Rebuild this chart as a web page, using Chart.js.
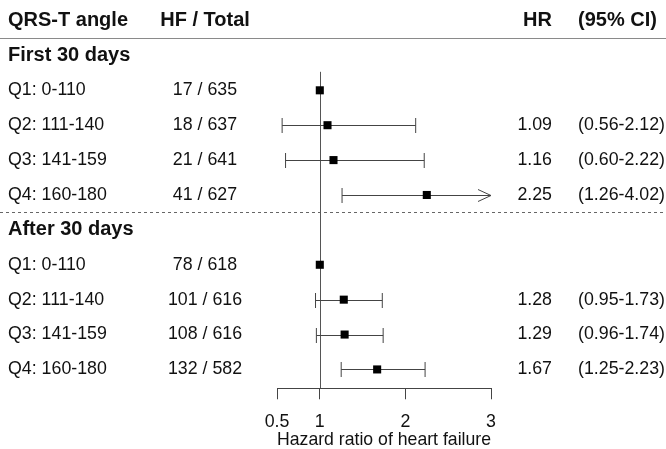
<!DOCTYPE html>
<html>
<head>
<meta charset="utf-8">
<script src="https://cdn.jsdelivr.net/npm/chart.js@4"></script>
<style>
  html, body { margin: 0; padding: 0; background: #fff; }
  canvas { display: block; }
</style>
</head>
<body>
<canvas id="forest" width="666" height="449"></canvas>
<script>
// --- Data ---
const groupNames = ['First 30 days', 'After 30 days'];
const angleLabels = ['Q1: 0-110', 'Q2: 111-140', 'Q3: 141-159', 'Q4: 160-180'];
const hfTotals = [
    ['17 / 635', '18 / 637', '21 / 641', '41 / 627'],
    ['78 / 618', '101 / 616', '108 / 616', '132 / 582']
];
const hrValues = [
    [1, 1.09, 1.16, 2.25],
    [1, 1.28, 1.29, 1.67]
];
const ciLower = [
    [null, 0.56, 0.60, 1.26],
    [null, 0.95, 0.96, 1.25]
];
const ciUpper = [
    [null, 2.12, 2.22, 4.02],
    [null, 1.73, 1.74, 2.23]
];
const xTicks = [0.5, 1, 2, 3];
const headers = ['QRS-T angle', 'HF / Total', 'HR', '(95% CI)'];
const axisTitle = 'Hazard ratio of heart failure';

// --- Rows: 0 = header, then group title + 4 rows per group ---
const rows = [];
let r = 1;
groupNames.forEach((name, g) => {
    rows.push({ kind: 'group', row: r++, text: name });
    angleLabels.forEach((lab, i) => {
        rows.push({
            kind: 'item', row: r++, label: lab, hf: hfTotals[g][i],
            hr: hrValues[g][i], lo: ciLower[g][i], hi: ciUpper[g][i]
        });
    });
});
const items = rows.filter(d => d.kind === 'item');

const FONT = '"Liberation Sans", Arial, sans-serif';
const TEXT = '#111';
const BOLD = 'bold 20px ' + FONT;
const PLAIN = '17.8px ' + FONT;

const col = { label: 8, hf: 205, hr: 552, ci: 578 };

const forestPlugin = {
    id: 'forest',
    beforeDatasetsDraw(chart) {
        const { ctx, scales: { x, y }, chartArea } = chart;
        const W = chart.width;
        ctx.save();

        // header rule and section separator
        ctx.strokeStyle = '#8a8a8a';
        ctx.lineWidth = 1;
        const hy = Math.round(y.getPixelForValue(0.5)) + 0.5;
        ctx.beginPath(); ctx.moveTo(0, hy); ctx.lineTo(W, hy); ctx.stroke();

        ctx.strokeStyle = '#666';
        ctx.setLineDash([3, 3]);
        const dy = Math.round(y.getPixelForValue(5.5)) + 0.5;
        ctx.beginPath(); ctx.moveTo(0, dy); ctx.lineTo(W, dy); ctx.stroke();
        ctx.setLineDash([]);

        // reference line at HR = 1
        const x1 = Math.round(x.getPixelForValue(1)) + 0.5;
        ctx.strokeStyle = '#555';
        ctx.beginPath();
        ctx.moveTo(x1, y.getPixelForValue(1.47));
        ctx.lineTo(x1, chartArea.bottom);
        ctx.stroke();

        // confidence intervals
        ctx.strokeStyle = '#444';
        items.forEach(d => {
            if (d.lo == null) return;
            const py = Math.round(y.getPixelForValue(d.row)) + 0.5;
            const xl = x.getPixelForValue(Math.max(d.lo, x.min));
            const clipped = d.hi > x.max;
            const xr = x.getPixelForValue(Math.min(d.hi, x.max));
            ctx.beginPath();
            ctx.moveTo(xl, py); ctx.lineTo(xr, py);
            ctx.moveTo(xl, py - 7.5); ctx.lineTo(xl, py + 7.5);
            if (clipped) {
                ctx.moveTo(xr - 13, py - 6); ctx.lineTo(xr, py); ctx.lineTo(xr - 13, py + 6);
            } else {
                ctx.moveTo(xr, py - 7.5); ctx.lineTo(xr, py + 7.5);
            }
            ctx.stroke();
        });

        // text columns
        ctx.fillStyle = TEXT;
        ctx.textBaseline = 'middle';
        const y0 = y.getPixelForValue(0);
        ctx.font = BOLD;
        ctx.textAlign = 'left';  ctx.fillText(headers[0], col.label, y0);
        ctx.textAlign = 'center'; ctx.fillText(headers[1], col.hf, y0);
        ctx.textAlign = 'right'; ctx.fillText(headers[2], col.hr, y0);
        ctx.textAlign = 'left';  ctx.fillText(headers[3], col.ci, y0);

        rows.forEach(d => {
            const py = y.getPixelForValue(d.row);
            if (d.kind === 'group') {
                ctx.font = BOLD;
                ctx.textAlign = 'left';
                ctx.fillText(d.text, col.label, py);
                return;
            }
            ctx.font = PLAIN;
            ctx.textAlign = 'left';   ctx.fillText(d.label, col.label, py);
            ctx.textAlign = 'center'; ctx.fillText(d.hf, col.hf, py);
            if (d.lo != null) {
                ctx.textAlign = 'right'; ctx.fillText(d.hr.toFixed(2), col.hr, py);
                ctx.textAlign = 'left';
                ctx.fillText('(' + d.lo.toFixed(2) + '-' + d.hi.toFixed(2) + ')', col.ci, py);
            }
        });
        ctx.restore();
    }
};

new Chart(document.getElementById('forest'), {
    type: 'scatter',
    data: {
        datasets: [{
            data: items.map(d => ({ x: d.hr, y: d.row })),
            pointStyle: 'rect',
            pointRadius: 5.7,
            pointHoverRadius: 5.7,
            backgroundColor: '#000',
            borderWidth: 0,
            clip: false
        }]
    },
    options: {
        responsive: false,
        devicePixelRatio: 1,
        animation: false,
        layout: { padding: { left: 277, right: 175, top: 0, bottom: 0 } },
        plugins: { legend: { display: false }, tooltip: { enabled: false } },
        scales: {
            x: {
                type: 'linear',
                min: 0.5,
                max: 3,
                afterBuildTicks: scale => { scale.ticks = xTicks.map(v => ({ value: v })); },
                grid: { drawOnChartArea: false, drawTicks: true, tickLength: 11, color: '#444' },
                border: { display: true, color: '#444', width: 1 },
                ticks: {
                    padding: 12,
                    color: TEXT,
                    maxRotation: 0,
                    autoSkip: false,
                    font: { family: FONT, size: 17.8 }
                },
                title: {
                    display: true,
                    text: axisTitle,
                    color: TEXT,
                    padding: { top: -15, bottom: -2 },
                    font: { family: FONT, size: 17.8 }
                }
            },
            y: {
                type: 'linear',
                display: false,
                reverse: true,
                min: -0.425,
                max: 10.54
            }
        }
    },
    plugins: [forestPlugin]
});
</script>
</body>
</html>
